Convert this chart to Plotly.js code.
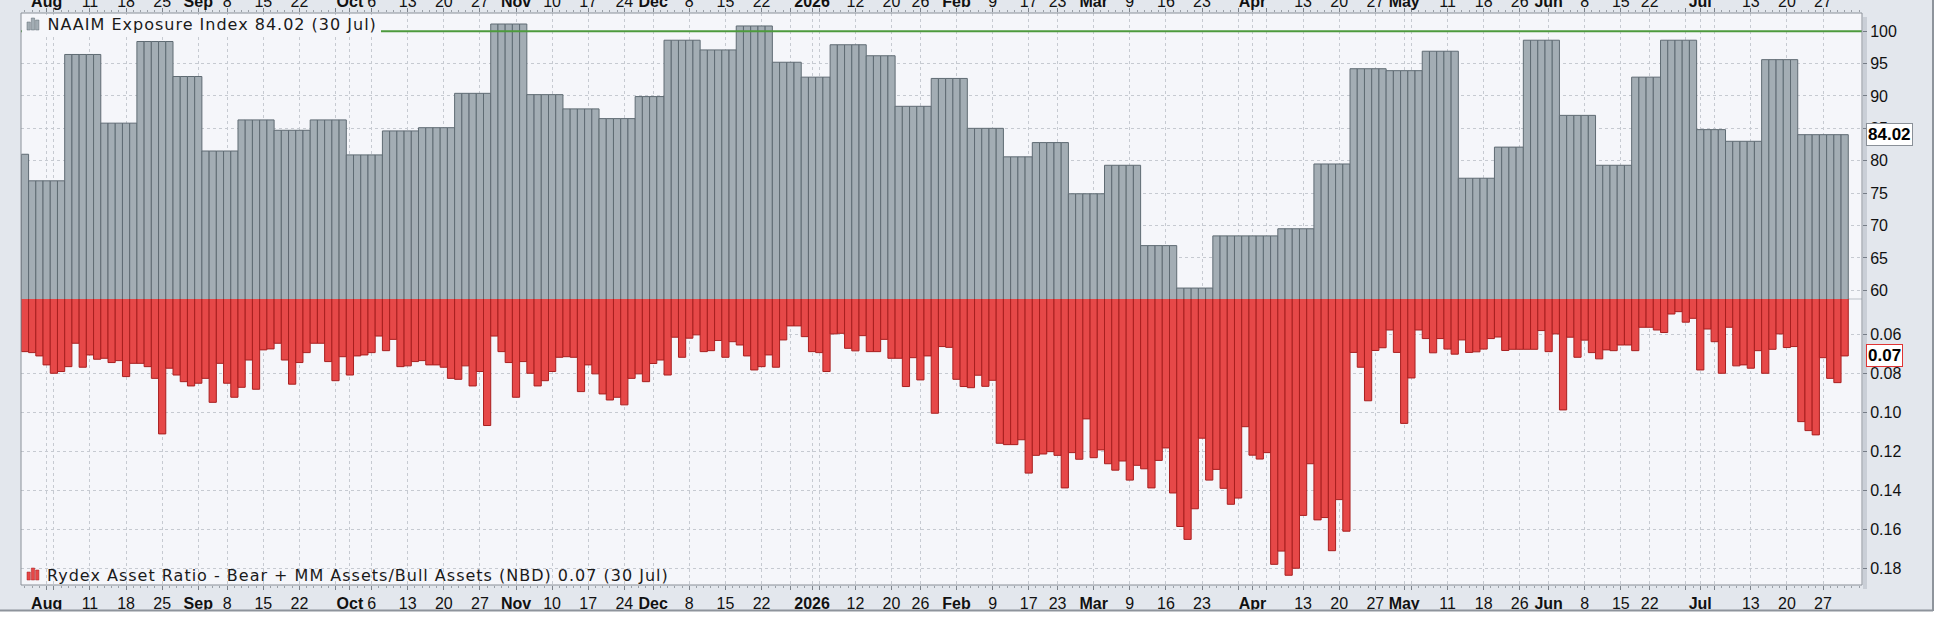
<!DOCTYPE html>
<html>
<head>
<meta charset="utf-8">
<script src="https://cdn.plot.ly/plotly-3.0.1.min.js"></script>
<style>
  html, body { margin: 0; padding: 0; background: #ffffff; }
  #gd { width: 1940px; height: 618px; }
  /* the two series captions are set a little wider, like the original */
  .annotation[data-index="0"] text, .annotation[data-index="1"] text { letter-spacing: 1px; }
</style>
</head>
<body>
<div id="gd"></div>
<script>
// trading calendar: weekdays from first to last bar, minus market holidays
var firstDay = "2025-07-29";
var lastDay = "2026-07-30";
var holidays = ["2025-09-01", "2025-11-27", "2025-12-25", "2026-01-01", "2026-01-19",
  "2026-02-16", "2026-04-03", "2026-05-25", "2026-06-19", "2026-07-03"];

// NAAIM exposure, one reading per week (starts on the Wednesday)
var naaimWeeks = ["2025-07-23", "2025-07-30", "2025-08-06", "2025-08-13", "2025-08-20", "2025-08-27",
  "2025-09-03", "2025-09-10", "2025-09-17", "2025-09-24", "2025-10-01", "2025-10-08", "2025-10-15",
  "2025-10-22", "2025-10-29", "2025-11-05", "2025-11-12", "2025-11-19", "2025-11-26", "2025-12-03",
  "2025-12-10", "2025-12-17", "2025-12-24", "2025-12-31", "2026-01-07", "2026-01-14", "2026-01-21",
  "2026-01-28", "2026-02-04", "2026-02-11", "2026-02-18", "2026-02-25", "2026-03-04", "2026-03-11",
  "2026-03-18", "2026-03-25", "2026-04-01", "2026-04-08", "2026-04-15", "2026-04-22", "2026-04-29",
  "2026-05-06", "2026-05-13", "2026-05-20", "2026-05-27", "2026-06-03", "2026-06-10", "2026-06-17",
  "2026-06-24", "2026-07-01", "2026-07-08", "2026-07-15", "2026-07-22", "2026-07-29"];
var naaimValues = [81.0, 76.9, 96.4, 85.8, 98.4, 93.0,
  81.5, 86.3, 84.7, 86.3, 80.9, 84.6, 85.1,
  90.4, 101.1, 90.2, 88.0, 86.5, 89.9, 98.6,
  97.1, 100.8, 95.2, 92.9, 97.9, 96.2, 88.4,
  92.7, 85.0, 80.6, 82.8, 74.9, 79.3, 66.9,
  60.35, 68.4, 68.4, 69.5, 79.5, 94.2, 93.9,
  96.9, 77.3, 82.1, 98.6, 87.0, 79.3, 92.9,
  98.6, 84.8, 83.0, 95.6, 84.02, 84.02];

// Rydex Bear + MM / Bull assets, one value per trading day
var rydex = [
  0.0689, 0.0694, 0.0711, 0.0757, 0.0800, 0.0791, 0.0766, 0.0646, 0.0769, 0.0706,
  0.0728, 0.0723, 0.0745, 0.0735, 0.0817, 0.0749, 0.0749, 0.0766, 0.0826, 0.1111,
  0.0774, 0.0809, 0.0843, 0.0865, 0.0851, 0.0826, 0.0949, 0.0749, 0.0851, 0.0923,
  0.0872, 0.0732, 0.0882, 0.0680, 0.0675, 0.0646, 0.0732, 0.0856, 0.0745, 0.0694,
  0.0646, 0.0646, 0.0740, 0.0838, 0.0715, 0.0809, 0.0711, 0.0706, 0.0694, 0.0609,
  0.0684, 0.0626, 0.0766, 0.0762, 0.0740, 0.0735, 0.0757, 0.0757, 0.0769, 0.0826,
  0.0831, 0.0762, 0.0865, 0.0791, 0.1068, 0.0609, 0.0689, 0.0745, 0.0923, 0.0740,
  0.0800, 0.0865, 0.0838, 0.0791, 0.0718, 0.0715, 0.0718, 0.0894, 0.0757, 0.0803,
  0.0906, 0.0937, 0.0923, 0.0962, 0.0826, 0.0803, 0.0843, 0.0750, 0.0732, 0.0809,
  0.0615, 0.0718, 0.0620, 0.0603, 0.0689, 0.0684, 0.0632, 0.0718, 0.0638, 0.0655,
  0.0711, 0.0783, 0.0766, 0.0706, 0.0769, 0.0629, 0.0557, 0.0557, 0.0612, 0.0689,
  0.0694, 0.0791, 0.0598, 0.0595, 0.0672, 0.0685, 0.0607, 0.0689, 0.0689, 0.0626,
  0.0723, 0.0723, 0.0868, 0.0720, 0.0834, 0.0711, 0.1005, 0.0663, 0.0667, 0.0831,
  0.0868, 0.0874, 0.0810, 0.0867, 0.0836, 0.1159, 0.1166, 0.1166, 0.1141, 0.1312,
  0.1221, 0.1214, 0.1202, 0.1221, 0.1388, 0.1207, 0.1241, 0.1034, 0.1233, 0.1193,
  0.1264, 0.1297, 0.1250, 0.1348, 0.1272, 0.1290, 0.1388, 0.1247, 0.1183, 0.1414,
  0.1586, 0.1652, 0.1495, 0.1133, 0.1348, 0.1293, 0.1390, 0.1472, 0.1440, 0.1074,
  0.1220, 0.1240, 0.1207, 0.1780, 0.1712, 0.1836, 0.1800, 0.1529, 0.1264, 0.1552,
  0.1540, 0.1710, 0.1448, 0.1610, 0.0693, 0.0769, 0.0941, 0.0683, 0.0669, 0.0578,
  0.0693, 0.1057, 0.0824, 0.0578, 0.0622, 0.0695, 0.0622, 0.0676, 0.0702, 0.0629,
  0.0693, 0.0690, 0.0676, 0.0622, 0.0614, 0.0683, 0.0677, 0.0677, 0.0677, 0.0677,
  0.0581, 0.0689, 0.0598, 0.0988, 0.0615, 0.0718, 0.0630, 0.0694, 0.0726, 0.0680,
  0.0684, 0.0655, 0.0655, 0.0684, 0.0564, 0.0564, 0.0578, 0.0591, 0.0496, 0.0484,
  0.0538, 0.0518, 0.0783, 0.0573, 0.0638, 0.0800, 0.0564, 0.0762, 0.0757, 0.0774,
  0.0684, 0.0800, 0.0677, 0.0598, 0.0668, 0.0663, 0.1048, 0.1094, 0.1116, 0.0720,
  0.0826, 0.0848, 0.0711];

// x axis: week / month starts get a gridline, some get a label
var tickDates = ["2025-08-01", "2025-08-04", "2025-08-11", "2025-08-18", "2025-08-25",
  "2025-09-02", "2025-09-08", "2025-09-15", "2025-09-22", "2025-09-29",
  "2025-10-01", "2025-10-06", "2025-10-13", "2025-10-20", "2025-10-27",
  "2025-11-03", "2025-11-10", "2025-11-17", "2025-11-24",
  "2025-12-01", "2025-12-08", "2025-12-15", "2025-12-22", "2025-12-29",
  "2026-01-02", "2026-01-05", "2026-01-12", "2026-01-20", "2026-01-26",
  "2026-02-02", "2026-02-09", "2026-02-17", "2026-02-23",
  "2026-03-02", "2026-03-09", "2026-03-16", "2026-03-23", "2026-03-30",
  "2026-04-01", "2026-04-06", "2026-04-13", "2026-04-20", "2026-04-27",
  "2026-05-01", "2026-05-04", "2026-05-11", "2026-05-18", "2026-05-26",
  "2026-06-01", "2026-06-08", "2026-06-15", "2026-06-22", "2026-06-29",
  "2026-07-01", "2026-07-06", "2026-07-13", "2026-07-20", "2026-07-27"];
var tickLabels = ["<b>Aug</b>", "", "11", "18", "25",
  "<b>Sep</b>", "8", "15", "22", "",
  "<b>Oct</b>", "6", "13", "20", "27",
  "<b>Nov</b>", "10", "17", "24",
  "<b>Dec</b>", "8", "15", "22", "",
  "<b>2026</b>", "", "12", "20", "26",
  "<b>Feb</b>", "9", "17", "23",
  "<b>Mar</b>", "9", "16", "23", "",
  "<b>Apr</b>", "", "13", "20", "27",
  "<b>May</b>", "", "11", "18", "26",
  "<b>Jun</b>", "8", "15", "22", "",
  "<b>Jul</b>", "", "13", "20", "27"];

var naaimTicks = [60, 65, 70, 75, 80, 85, 90, 95, 100];
var rydexTicks = [0.06, 0.08, 0.10, 0.12, 0.14, 0.16, 0.18];

var naaimCaption = "NAAIM Exposure Index 84.02 (30 Jul)";
var rydexCaption = "Rydex Asset Ratio - Bear + MM Assets/Bull Assets (NBD) 0.07 (30 Jul)";

// ---- build the day list
function iso(d) { return d.toISOString().slice(0, 10); }
var days = [];
var d = new Date(firstDay + "T00:00:00Z");
while (iso(d) <= lastDay) {
  var wd = d.getUTCDay();
  if (wd !== 0 && wd !== 6 && holidays.indexOf(iso(d)) < 0) days.push(iso(d));
  d.setUTCDate(d.getUTCDate() + 1);
}
var idx = days.map(function (s, i) { return i; });

// weekly NAAIM reading held over each day of its week
var naaimDaily = days.map(function (s) {
  var v = naaimValues[0];
  for (var k = 0; k < naaimWeeks.length; k++) if (naaimWeeks[k] <= s) v = naaimValues[k];
  return v;
});

var tickIdx = tickDates.map(function (s) { return days.indexOf(s); });

// pixel helpers for the decorations (plot area 21..1862 x 13..585)
var PL = 21, PT = 13, PW = 1841, PH = 572;
function px(x) { return (x - PL) / PW; }
function py(y) { return (PT + PH - y) / PH; }

var xRange = [-0.55, 254.4];
var tickFont = {family: "Liberation Sans, Arial, sans-serif", size: 16, color: "#111111"};
var captionFont = {family: "DejaVu Sans, sans-serif", size: 16, color: "#1a1a1a"};

var data = [
  {
    type: "bar", x: idx, y: naaimDaily, xaxis: "x", yaxis: "y", width: 1,
    marker: {color: "#a3adb4", line: {color: "#5f6b73", width: 1}},
    hoverinfo: "y"
  },
  {
    type: "bar", x: idx, y: rydex, xaxis: "x", yaxis: "y2", width: 1,
    marker: {color: "#e64848", line: {color: "#a81f1f", width: 1}},
    hoverinfo: "y"
  },
  {
    // keeps the top date axis alive
    type: "scatter", mode: "markers", x: [0], y: [80], xaxis: "x2", yaxis: "y",
    marker: {opacity: 0}, hoverinfo: "skip"
  }
];

function iconBars(x0, yBase, heights, color, line) {
  return heights.map(function (h, k) {
    return {
      type: "rect", xref: "paper", yref: "paper",
      x0: px(x0 + k * 4.3), x1: px(x0 + k * 4.3 + 3.3),
      y0: py(yBase), y1: py(yBase - h),
      fillcolor: color, line: {color: line, width: 0.5}
    };
  });
}

var shapes = [
  // panel separator
  {type: "line", xref: "paper", yref: "paper", x0: 0, x1: 1, y0: 0.5, y1: 0.5,
    line: {color: "#b9bfc7", width: 1}, layer: "between"},
  // 100 level
  {type: "line", xref: "paper", yref: "y", x0: 0, x1: 1, y0: 100, y1: 100,
    line: {color: "#4d9a3d", width: 2}},
  // caption backing, hides the 100 line behind the top caption
  {type: "rect", xref: "paper", yref: "paper", x0: px(22), x1: px(381), y0: py(34), y1: py(15),
    fillcolor: "#f5f6fa", line: {width: 0}},
  // plot frame
  {type: "rect", xref: "paper", yref: "paper", x0: 0, x1: 1, y0: 0, y1: 1,
    line: {color: "#8a9098", width: 1}},
  // frame shadow
  {type: "rect", xref: "paper", yref: "paper", x0: px(1863), x1: px(1867), y0: py(589), y1: py(17),
    fillcolor: "rgba(90,100,115,0.18)", line: {width: 0}},
  // window edge at bottom and right
  {type: "rect", xref: "paper", yref: "paper", x0: px(0), x1: px(1940), y0: py(618), y1: py(611),
    fillcolor: "#ffffff", line: {width: 0}},
  {type: "line", xref: "paper", yref: "paper", x0: px(0), x1: px(1933), y0: py(610.5), y1: py(610.5),
    line: {color: "#8e949c", width: 2}},
  {type: "rect", xref: "paper", yref: "paper", x0: px(1933), x1: px(1940), y0: py(618), y1: py(0),
    fillcolor: "#ffffff", line: {width: 0}},
  {type: "line", xref: "paper", yref: "paper", x0: px(1933), x1: px(1933), y0: py(611), y1: py(0),
    line: {color: "#8e949c", width: 2}}
].concat(
  iconBars(27, 30, [8, 12, 10], "#a3adb4", "#5f6b73"),
  iconBars(27, 580, [8, 12, 10], "#e64848", "#a81f1f")
);

// captions are centred by Plotly, the 1px letter spacing widens them on both sides
var annotations = [
  {xref: "paper", yref: "paper", x: px(45 + naaimCaption.length / 2), y: py(25), xanchor: "left", yanchor: "middle",
    text: naaimCaption, showarrow: false, font: captionFont},
  {xref: "paper", yref: "paper", x: px(45 + rydexCaption.length / 2), y: py(575), xanchor: "left", yanchor: "middle",
    text: rydexCaption, showarrow: false, font: captionFont},
  // last value flags
  {xref: "paper", yref: "y", x: px(1866), y: naaimDaily[naaimDaily.length - 1], xanchor: "left", yanchor: "middle",
    text: "<b>" + naaimDaily[naaimDaily.length - 1].toFixed(2) + "</b>", showarrow: false,
    bgcolor: "#ffffff", bordercolor: "#8a9098", borderwidth: 1, borderpad: 1,
    font: {family: "Liberation Sans Narrow, Liberation Sans, sans-serif", size: 17, color: "#000000"}},
  {xref: "paper", yref: "y2", x: px(1866), y: rydex[rydex.length - 1], xanchor: "left", yanchor: "middle",
    text: "<b>" + rydex[rydex.length - 1].toFixed(2) + "</b>", showarrow: false,
    bgcolor: "#ffffff", bordercolor: "#e03434", borderwidth: 1, borderpad: 1,
    font: {family: "Liberation Sans Narrow, Liberation Sans, sans-serif", size: 17, color: "#000000"}}
];

var xCommon = {
  range: xRange, tickmode: "array", tickvals: tickIdx, ticktext: tickLabels,
  ticks: "outside", ticklen: 4, tickcolor: "#7d838b", tickfont: tickFont,
  zeroline: false, showline: false, fixedrange: true,
  minor: {tickmode: "linear", tick0: 0, dtick: 1, ticks: "outside", ticklen: 2, tickcolor: "#9aa0a7", showgrid: false}
};

var layout = {
  width: 1940, height: 618,
  margin: {l: PL, r: 1940 - PL - PW, t: PT, b: 618 - PT - PH, pad: 0},
  paper_bgcolor: "#e3e7ed",
  plot_bgcolor: "#f5f6fa",
  showlegend: false,
  barmode: "overlay",
  bargap: 0,
  xaxis: Object.assign({}, xCommon, {
    anchor: "y2", side: "bottom",
    showgrid: true, gridcolor: "#c6cad1", griddash: "dot", gridwidth: 1
  }),
  xaxis2: Object.assign({}, xCommon, {
    overlaying: "x", anchor: "y", side: "top", showgrid: false, ticklabelstandoff: -5
  }),
  yaxis: {
    domain: [0.5, 1], range: [58.66, 102.8], anchor: "x", side: "right",
    tickmode: "array", tickvals: naaimTicks, ticks: "outside", ticklen: 4, tickcolor: "#7d838b",
    tickfont: tickFont, showgrid: true, gridcolor: "#c6cad1", griddash: "dot",
    zeroline: false, fixedrange: true
  },
  yaxis2: {
    domain: [0, 0.5], range: [0.1886, 0.0419], anchor: "x", side: "right",
    tickmode: "array", tickvals: rydexTicks, tickformat: ".2f", ticks: "outside", ticklen: 4, tickcolor: "#7d838b",
    tickfont: tickFont, showgrid: true, gridcolor: "#c6cad1", griddash: "dot",
    zeroline: false, fixedrange: true
  },
  shapes: shapes,
  annotations: annotations
};

Plotly.newPlot("gd", data, layout, {displayModeBar: false, staticPlot: true});
</script>
</body>
</html>
